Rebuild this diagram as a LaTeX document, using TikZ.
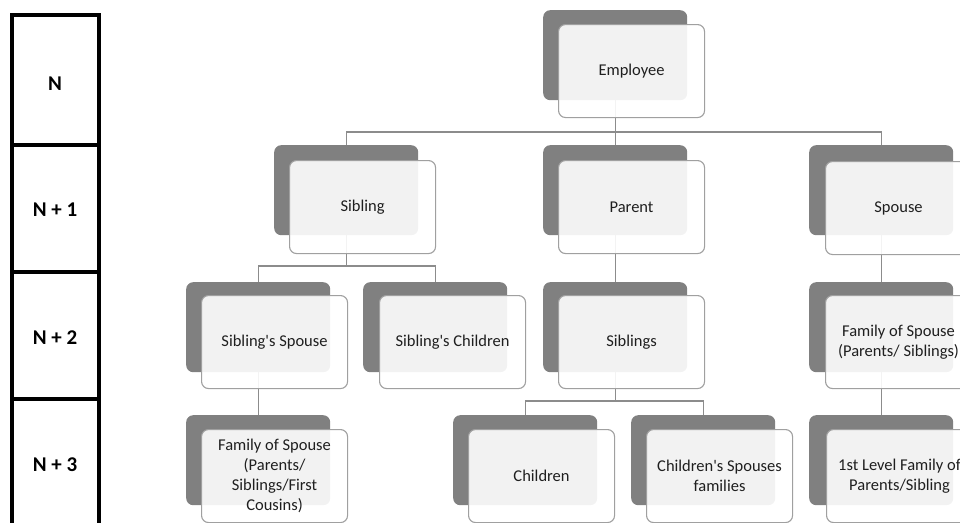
\documentclass[tikz,border=0pt]{standalone}
\usepackage{fontspec}
\setmainfont{Carlito}
\usetikzlibrary{calc}
\definecolor{backgray}{HTML}{808080}
\definecolor{framegray}{HTML}{A0A0A0}
\definecolor{linegray}{HTML}{8C8C8C}
\tikzset{
  backbox/.style={fill=backgray, draw=none, rounded corners=7pt, minimum width=144pt, minimum height=90pt, inner sep=0pt, anchor=north west},
  frontbox/.style={fill=white, fill opacity=0.9, text opacity=1, draw=framegray, draw opacity=1, line width=1.1pt, rounded corners=7pt, minimum width=146pt, minimum height=93pt, inner sep=0pt, align=center, anchor=north west, font=\fontsize{16.5}{20}\selectfont, text=black!88},
  conn/.style={draw=linegray, line width=1.3pt},
  rowline/.style={line width=4pt, line join=miter, line cap=rect},
  rowlabel/.style={font=\fontsize{21}{24}\bfseries\selectfont, inner sep=0pt}
}
\begin{document}
\begin{tikzpicture}[x=1pt,y=-1pt]
\useasboundingbox (0,0) rectangle (960,522);
\clip (0,0) rectangle (960,522);
% left level column
\draw[rowline] (11.5,540) -- (11.5,15) -- (98.5,15) -- (98.5,540);
\draw[rowline] (11.5,145) -- (98.5,145);
\draw[rowline] (11.5,272) -- (98.5,272);
\draw[rowline] (11.5,399) -- (98.5,399);
\node[rowlabel] (l0) at (55,84) {N};
\node[rowlabel] (l1) at (55,210) {N + 1};
\node[rowlabel] (l2) at (55,338) {N + 2};
\node[rowlabel] (l3) at (55,465) {N + 3};
% back boxes
\node[backbox] (empB) at (543,10) {};
\node[backbox] (sibB) at (274,145) {};
\node[backbox] (parB) at (543,145) {};
\node[backbox] (spoB) at (809,145) {};
\node[backbox] (ssB) at (186,282) {};
\node[backbox] (scB) at (363,282) {};
\node[backbox] (sgsB) at (543,282) {};
\node[backbox] (fsB) at (809,282) {};
\node[backbox] (fssB) at (186,415) {};
\node[backbox] (chB) at (453,415) {};
\node[backbox] (cspB) at (631,415) {};
\node[backbox] (flB) at (809,415) {};
% junctions
\coordinate (j1) at (empB.south |- 0,132);
\coordinate (j2) at (sibB.south |- 0,266);
\coordinate (j3) at (sgsB.south |- 0,401);
% connectors
\draw[conn] (empB.south) -- (j1);
\draw[conn] (sibB.north) |- (j1) -| (spoB.north);
\draw[conn] (j1) -- (parB.north);
\draw[conn] (sibB.south) -- (j2);
\draw[conn] (ssB.north) |- (j2) -| (scB.north);
\draw[conn] (parB.south) -- (sgsB.north);
\draw[conn] (spoB.south) -- (fsB.north);
\draw[conn] (ssB.south) -- (fssB.north);
\draw[conn] (sgsB.south) -- (j3);
\draw[conn] (chB.north) |- (j3) -| (cspB.north);
\draw[conn] (fsB.south) -- (flB.north);
% front boxes
\node[frontbox] (emp) at ($(empB.north west)+(15,14)$) {Employee};
\node[frontbox] (sib) at ($(sibB.north west)+(15,15)$) {Sibling};
\node[frontbox] (par) at ($(parB.north west)+(15,15)$) {Parent};
\node[frontbox] (spo) at ($(spoB.north west)+(16,16)$) {Spouse};
\node[frontbox] (ss) at ($(ssB.north west)+(15,13)$) {Sibling\textquotesingle s Spouse};
\node[frontbox] (sc) at ($(scB.north west)+(16,13)$) {Sibling\textquotesingle s Children};
\node[frontbox] (sgs) at ($(sgsB.north west)+(15,13)$) {Siblings};
\node[frontbox] (fs) at ($(fsB.north west)+(16,13)$) {Family of Spouse\\(Parents/ Siblings)};
\node[frontbox] (fss) at ($(fssB.north west)+(15,14)$) {Family of Spouse\\(Parents/\\Siblings/First\\Cousins)};
\node[frontbox] (ch) at ($(chB.north west)+(15,14)$) {Children};
\node[frontbox] (csp) at ($(cspB.north west)+(15,14)$) {Children\textquotesingle s Spouses\\families};
\node[frontbox] (fl) at ($(flB.north west)+(17,14)$) {1st Level Family of\\Parents/Sibling};
\end{tikzpicture}
\end{document}
